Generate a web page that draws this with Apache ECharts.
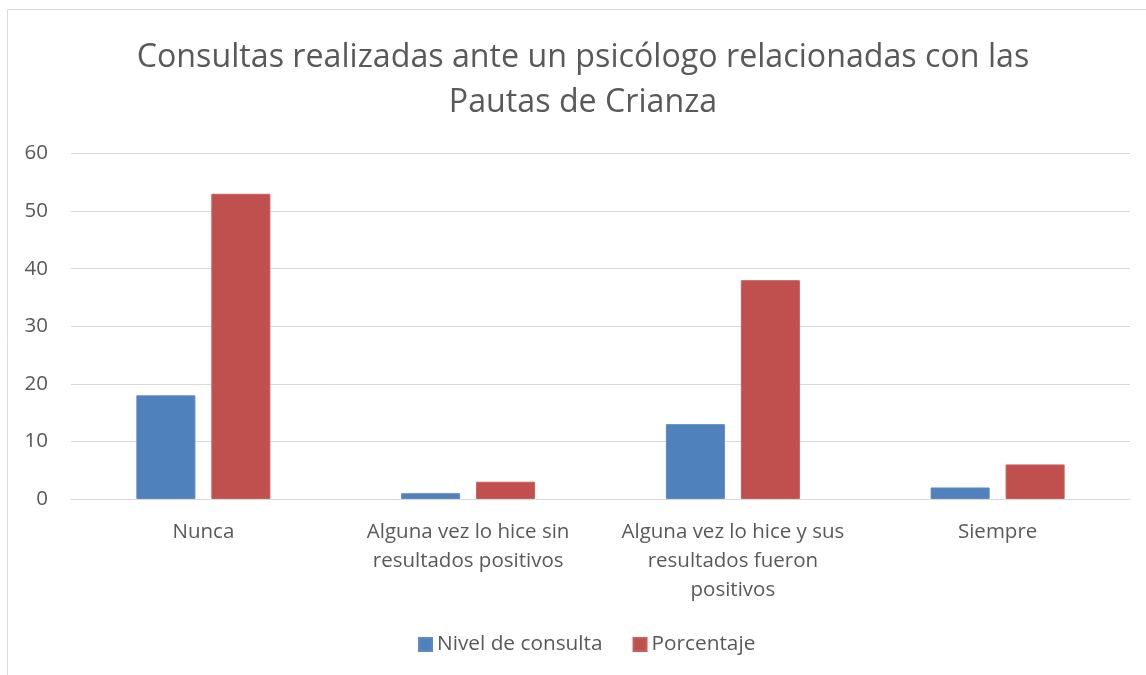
<!DOCTYPE html>
<html>
<head>
<meta charset="utf-8">
<script src="https://cdn.jsdelivr.net/npm/echarts@6/dist/echarts.min.js"></script>
<style>
html,body{margin:0;padding:0;background:#fff;}
#c{width:1146px;height:675px;}
</style>
</head>
<body>
<div id="c"></div>
<script>
const titleText = 'Consultas realizadas ante un psicólogo relacionadas con las\nPautas de Crianza';
const categories = ['Nunca', 'Alguna vez lo hice sin\nresultados positivos', 'Alguna vez lo hice y sus\nresultados fueron\npositivos', 'Siempre'];
const seriesNames = ['Nivel de consulta', 'Porcentaje'];
const nivelConsulta = [18, 1, 13, 2];
const porcentaje = [53, 3, 38, 6];
const yTicks = {min: 0, max: 60, interval: 10};

const FONT = '"Open Sans", "Noto Sans", sans-serif';
const chart = echarts.init(document.getElementById('c'), null, {renderer: 'canvas'});
chart.setOption({
  backgroundColor: '#fff',
  animation: false,
  graphic: [{
    type: 'rect', silent: true,
    shape: {x: 7.5, y: 9.5, width: 1300, height: 900},
    style: {fill: 'none', stroke: '#d9d9d9', lineWidth: 1}
  }],
  title: {
    text: titleText,
    left: 578,
    top: 30,
    textAlign: 'center',
    textStyle: {fontFamily: FONT, fontSize: 32.2, fontWeight: 'normal', color: '#595959', lineHeight: 45}
  },
  legend: {
    data: seriesNames,
    bottom: 15,
    left: 413,
    itemWidth: 13, itemHeight: 13,
    itemGap: 30,
    icon: 'rect',
    textStyle: {fontFamily: FONT, fontSize: 20.8, color: '#595959'}
  },
  grid: {left: 71, right: 16, top: 153.5, bottom: 176, containLabel: false},
  xAxis: {
    type: 'category',
    data: categories,
    axisLine: {lineStyle: {color: '#d9d9d9', width: 1}},
    axisTick: {show: false},
    axisLabel: {fontFamily: FONT, fontSize: 20.5, color: '#595959', lineHeight: 29, margin: 19, interval: 0}
  },
  yAxis: {
    type: 'value',
    min: yTicks.min, max: yTicks.max, interval: yTicks.interval,
    axisLine: {show: false},
    axisTick: {show: false},
    splitLine: {lineStyle: {color: '#d9d9d9', width: 1}},
    axisLabel: {fontFamily: FONT, fontSize: 20.5, color: '#595959', margin: 23}
  },
  series: [
    {name: seriesNames[0], type: 'bar', data: nivelConsulta, barWidth: '22.3%', barGap: '27%',
     itemStyle: {color: '#4F81BD', borderColor: '#5b8ac4', borderWidth: 1}},
    {name: seriesNames[1], type: 'bar', data: porcentaje, barWidth: '22.3%', barGap: '27%',
     itemStyle: {color: '#C0504D', borderColor: '#c65e5b', borderWidth: 1}}
  ]
});
</script>
</body>
</html>
